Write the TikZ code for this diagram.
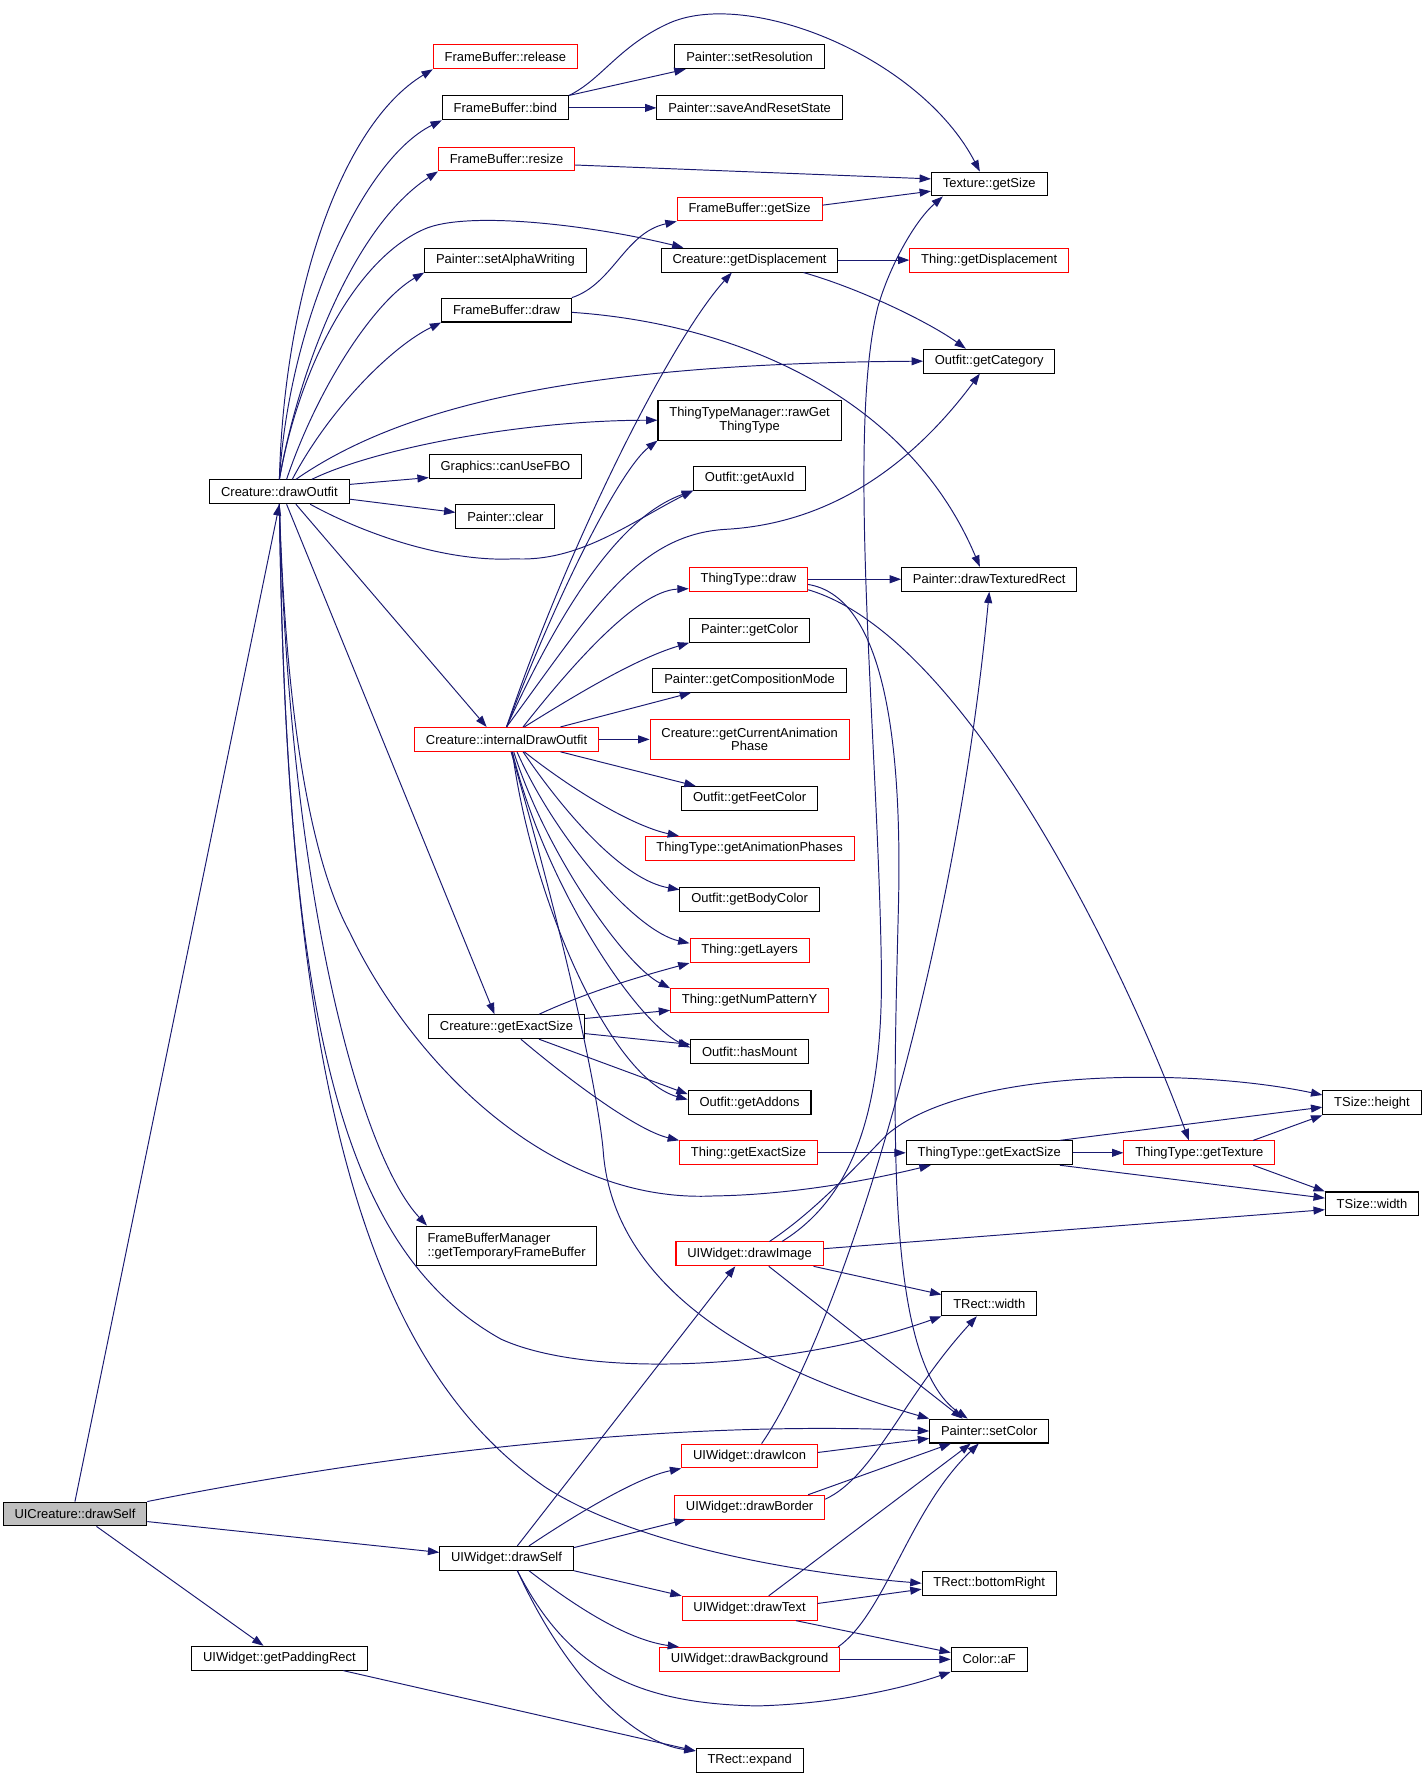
\documentclass[tikz,border=0pt]{standalone}
\usepackage{fontspec}
\setmainfont{Liberation Sans}
\usetikzlibrary{arrows.meta}
\definecolor{callblue}{HTML}{191970}
\tikzset{
	fn/.style={draw=black, fill=white, line width=0.9pt, minimum height=21pt, inner xsep=10pt, inner ysep=2pt, font=\fontsize{11.4}{12.2}\selectfont},
	fnred/.style={fn, draw=red},
	fnroot/.style={fn, fill=gray!50},
	two/.style={minimum height=35pt, align=center},
	calls/.style={draw=callblue, line width=0.85pt, -{Triangle[length=10pt,width=7pt]}}
}

\begin{document}
\begin{tikzpicture}[x=1pt,y=-1pt]
	\useasboundingbox (0,0) rectangle (1257,1569);
	% functions
	\node[fnroot] (uicDraw) at (66,1333) {UICreature::drawSelf};
	\node[fn] (crDrawOutfit) at (246,433) {Creature::drawOutfit};
	\node[fn] (wPadRect) at (246,1460) {UIWidget::getPaddingRect};
	\node[fnred] (fbRelease) at (445,50) {FrameBuffer::release};
	\node[fn] (fbBind) at (445,95) {FrameBuffer::bind};
	\node[fnred] (fbResize) at (446,140) {FrameBuffer::resize};
	\node[fn] (pSetAlpha) at (445,229) {Painter::setAlphaWriting};
	\node[fn] (fbDraw) at (446,273) {FrameBuffer::draw};
	\node[fn] (gCanFBO) at (445,411) {Graphics::canUseFBO};
	\node[fn] (pClear) at (445,455) {Painter::clear};
	\node[fnred] (crIntDraw) at (446,651) {Creature::internalDrawOutfit};
	\node[fn] (crExactSize) at (446,904) {Creature::getExactSize};
	\node[fn,two,align=left] (fbmTemp) at (446,1097) {FrameBufferManager\\::getTemporaryFrameBuffer};
	\node[fn] (wDrawSelf) at (446,1372) {UIWidget::drawSelf};
	\node[fn] (pSetRes) at (660,50) {Painter::setResolution};
	\node[fn] (pSaveReset) at (660,95) {Painter::saveAndResetState};
	\node[fnred] (fbGetSize) at (660,184) {FrameBuffer::getSize};
	\node[fn] (crDisp) at (660,229) {Creature::getDisplacement};
	\node[fn,two] (ttmRawGet) at (660,370) {ThingTypeManager::rawGet\\ThingType};
	\node[fn] (oAuxId) at (660,421) {Outfit::getAuxId};
	\node[fnred] (ttDraw) at (659,510) {ThingType::draw};
	\node[fn] (pGetColor) at (660,555) {Painter::getColor};
	\node[fn] (pCompMode) at (660,599) {Painter::getCompositionMode};
	\node[fnred,two] (crAnimPhase) at (660,651) {Creature::getCurrentAnimation\\Phase};
	\node[fn] (oFeetColor) at (660,703) {Outfit::getFeetColor};
	\node[fnred] (ttAnimPhases) at (660,747) {ThingType::getAnimationPhases};
	\node[fn] (oBodyColor) at (660,792) {Outfit::getBodyColor};
	\node[fnred] (tLayers) at (660,837) {Thing::getLayers};
	\node[fnred] (tPatternY) at (660,881) {Thing::getNumPatternY};
	\node[fn] (oHasMount) at (660,926) {Outfit::hasMount};
	\node[fn] (oAddons) at (660,971) {Outfit::getAddons};
	\node[fnred] (tExactSize) at (659,1015) {Thing::getExactSize};
	\node[fnred] (wDrawImage) at (660,1104) {UIWidget::drawImage};
	\node[fnred] (wDrawIcon) at (660,1282) {UIWidget::drawIcon};
	\node[fnred] (wDrawBorder) at (660,1327) {UIWidget::drawBorder};
	\node[fnred] (wDrawText) at (660,1416) {UIWidget::drawText};
	\node[fnred] (wDrawBg) at (660,1461) {UIWidget::drawBackground};
	\node[fn] (rExpand) at (660,1550) {TRect::expand};
	\node[fn] (texGetSize) at (871,162) {Texture::getSize};
	\node[fnred] (tDisp) at (871,229) {Thing::getDisplacement};
	\node[fn] (oCategory) at (871,318) {Outfit::getCategory};
	\node[fn] (pTexRect) at (871,510) {Painter::drawTexturedRect};
	\node[fn] (ttExactSize) at (871,1015) {ThingType::getExactSize};
	\node[fn] (rWidth) at (871,1148) {TRect::width};
	\node[fn] (pSetColor) at (871,1260) {Painter::setColor};
	\node[fn] (rBottomRight) at (871,1394) {TRect::bottomRight};
	\node[fn] (cAF) at (871,1461) {Color::aF};
	\node[fnred] (ttTexture) at (1056,1015) {ThingType::getTexture};
	\node[fn] (sHeight) at (1208,971) {TSize::height};
	\node[fn] (sWidth) at (1208,1060) {TSize::width};
	% calls
	\draw[calls] (uicDraw.north) -- (crDrawOutfit.south);
	\draw[calls] (uicDraw.north east) .. controls (350,1278) and (600,1250) .. (pSetColor.west);
	\draw[calls] (uicDraw.-6) -- (wDrawSelf.175);
	\draw[calls] (uicDraw.-30) -- ([xshift=-14pt]wPadRect.north);
	\draw[calls] (crDrawOutfit.north) .. controls (250,260) and (300,110) .. (fbRelease.south west);
	\draw[calls] (crDrawOutfit.north) .. controls (255,280) and (320,140) .. (fbBind.south west);
	\draw[calls] (crDrawOutfit.north) .. controls (262,330) and (310,200) .. (fbResize.south west);
	\draw[calls] (crDrawOutfit.north) .. controls (262,330) and (310,230) .. (373,202) .. controls (410,185) and (520,198) .. ([xshift=20pt]crDisp.north west);
	\draw[calls] (crDrawOutfit.60) .. controls (280,340) and (330,265) .. (pSetAlpha.south west);
	\draw[calls] (crDrawOutfit.44) .. controls (290,360) and (345,305) .. (fbDraw.south west);
	\draw[calls] (crDrawOutfit.37) .. controls (350,360) and (500,320) .. (oCategory.west);
	\draw[calls] (crDrawOutfit.21) .. controls (330,395) and (460,370) .. (ttmRawGet.west);
	\draw[calls] (crDrawOutfit.6) -- (gCanFBO.-172);
	\draw[calls] (crDrawOutfit.-6) -- (pClear.175);
	\draw[calls] (crDrawOutfit.-22) .. controls (330,475) and (400,495) .. (453,492) .. controls (510,495) and (555,460) .. (oAuxId.south west);
	\draw[calls] (crDrawOutfit.-37) -- (crIntDraw.148);
	\draw[calls] (crDrawOutfit.-60) -- (crExactSize.134);
	\draw[calls] (crDrawOutfit.south) .. controls (252,640) and (275,760) .. (308,821) .. controls (360,930) and (480,1060) .. (628,1053) .. controls (700,1052) and (770,1038) .. (ttExactSize.-168);
	\draw[calls] (crDrawOutfit.south) .. controls (255,800) and (320,1020) .. ([xshift=10pt]fbmTemp.north west);
	\draw[calls] (crDrawOutfit.south) .. controls (252,900) and (300,1100) .. (441,1179) .. controls (520,1215) and (700,1205) .. (rWidth.south west);
	\draw[calls] (crDrawOutfit.south) .. controls (252,950) and (320,1200) .. (481,1310) .. controls (560,1360) and (700,1385) .. (rBottomRight.west);
	\draw[calls] (crIntDraw.north) .. controls (500,480) and (590,300) .. (crDisp.-145);
	\draw[calls] (crIntDraw.north) .. controls (500,500) and (550,410) .. (ttmRawGet.south west);
	\draw[calls] (crIntDraw.north) .. controls (510,500) and (560,450) .. (oAuxId.south west);
	\draw[calls] (crIntDraw.north) .. controls (520,540) and (560,470) .. (640,466) .. controls (740,460) and (810,400) .. (oCategory.-127);
	\draw[calls] (crIntDraw.37) .. controls (500,590) and (560,520) .. (ttDraw.-171);
	\draw[calls] (crIntDraw.35) .. controls (510,610) and (560,580) .. (pGetColor.south west);
	\draw[calls] (crIntDraw.13) -- (pCompMode.-168);
	\draw[calls] (crIntDraw.east) -- (crAnimPhase.west);
	\draw[calls] (crIntDraw.-13) -- (oFeetColor.167);
	\draw[calls] (crIntDraw.-35) .. controls (510,700) and (560,728) .. (ttAnimPhases.170);
	\draw[calls] (crIntDraw.-37) .. controls (500,720) and (550,775) .. (oBodyColor.172);
	\draw[calls] (crIntDraw.-50) .. controls (490,740) and (560,820) .. (tLayers.173);
	\draw[calls] (crIntDraw.-60) .. controls (480,750) and (550,850) .. (tPatternY.north west);
	\draw[calls] (crIntDraw.-65) .. controls (480,780) and (560,900) .. (oHasMount.176);
	\draw[calls] (crIntDraw.-65) .. controls (470,800) and (540,950) .. (oAddons.177);
	\draw[calls] (crIntDraw.-70) .. controls (490,800) and (525,950) .. (531,1012) .. controls (540,1150) and (700,1215) .. (pSetColor.north west);
	\draw[calls] (crExactSize.21) .. controls (520,872) and (570,858) .. (tLayers.south west);
	\draw[calls] (crExactSize.6) -- (tPatternY.-173);
	\draw[calls] (crExactSize.-5) -- (oHasMount.173);
	\draw[calls] (crExactSize.-21) -- (oAddons.172);
	\draw[calls] (crExactSize.-41) .. controls (500,950) and (560,995) .. (tExactSize.north west);
	\draw[calls] (tExactSize.east) -- (ttExactSize.west);
	\draw[calls] (ttExactSize.10) -- (sHeight.-175);
	\draw[calls] (ttExactSize.east) -- (ttTexture.west);
	\draw[calls] (ttExactSize.-10) -- (sWidth.173);
	\draw[calls] (ttTexture.13) -- (sHeight.south west);
	\draw[calls] (ttTexture.-13) -- (sWidth.north west);
	\draw[calls] (ttDraw.east) -- (pTexRect.west);
	\draw[calls] (ttDraw.-10) .. controls (850,560) and (990,850) .. (ttTexture.130);
	\draw[calls] (ttDraw.-5) .. controls (775,525) and (795,640) .. (791,800) .. controls (786,1000) and (780,1200) .. (pSetColor.150);
	\draw[calls] (wDrawImage.4) -- (sWidth.-173);
	\draw[calls] (wDrawImage.-11) -- (rWidth.169);
	\draw[calls] (wDrawImage.-33) -- (pSetColor.155);
	\draw[calls] (wDrawImage.21) .. controls (750,1055) and (778,980) .. (776,850) .. controls (773,650) and (745,380) .. (773,270) .. controls (783,235) and (805,195) .. (texGetSize.-165);
	\draw[calls] (wDrawImage.32) .. controls (720,1065) and (760,1020) .. (781,999) .. controls (850,940) and (1050,940) .. (sHeight.171);
	\draw[calls] (wDrawIcon.3) -- (pSetColor.-173);
	\draw[calls] (wDrawIcon.46) .. controls (740,1170) and (840,850) .. (pTexRect.south);
	\draw[calls] (wDrawBorder.12) -- (pSetColor.-162);
	\draw[calls] (wDrawBorder.6) .. controls (770,1300) and (795,1230) .. (rWidth.-135);
	\draw[calls] (wDrawText.33) -- (pSetColor.-146);
	\draw[calls] (wDrawText.4) -- (rBottomRight.-175);
	\draw[calls] (wDrawText.-15) -- (cAF.170);
	\draw[calls] (wDrawBg.east) -- (cAF.west);
	\draw[calls] (wDrawBg.8) .. controls (780,1420) and (800,1330) .. (pSetColor.-130);
	\draw[calls] (wDrawSelf.49) -- (wDrawImage.-139);
	\draw[calls] (wDrawSelf.29) .. controls (520,1325) and (565,1300) .. (wDrawIcon.south west);
	\draw[calls] (wDrawSelf.9) -- (wDrawBorder.-169);
	\draw[calls] (wDrawSelf.south east) -- (wDrawText.north west);
	\draw[calls] (wDrawSelf.-29) .. controls (520,1425) and (560,1445) .. (wDrawBg.170);
	\draw[calls] (wDrawSelf.-49) .. controls (500,1470) and (560,1500) .. (667,1502) .. controls (740,1500) and (800,1485) .. (cAF.south west);
	\draw[calls] (wDrawSelf.-49) .. controls (500,1480) and (560,1535) .. (rExpand.170);
	\draw[calls] (wPadRect.-11) -- (rExpand.170);
	\draw[calls] (fbBind.north east) -- (pSetRes.-169);
	\draw[calls] (fbBind.east) -- (pSaveReset.west);
	\draw[calls] (fbBind.north east) .. controls (530,70) and (545,40) .. (590,20) .. controls (660,-10) and (810,50) .. (texGetSize.127);
	\draw[calls] (fbResize.-5) -- (texGetSize.175);
	\draw[calls] (fbGetSize.3) -- (texGetSize.-173);
	\draw[calls] (fbDraw.north east) .. controls (540,250) and (550,205) .. (fbGetSize.south west);
	\draw[calls] (fbDraw.-2) .. controls (650,285) and (800,350) .. (pTexRect.127);
	\draw[calls] (crDisp.east) -- (tDisp.west);
	\draw[calls] (crDisp.-13) .. controls (760,255) and (820,285) .. (oCategory.152);
\end{tikzpicture}
\end{document}
